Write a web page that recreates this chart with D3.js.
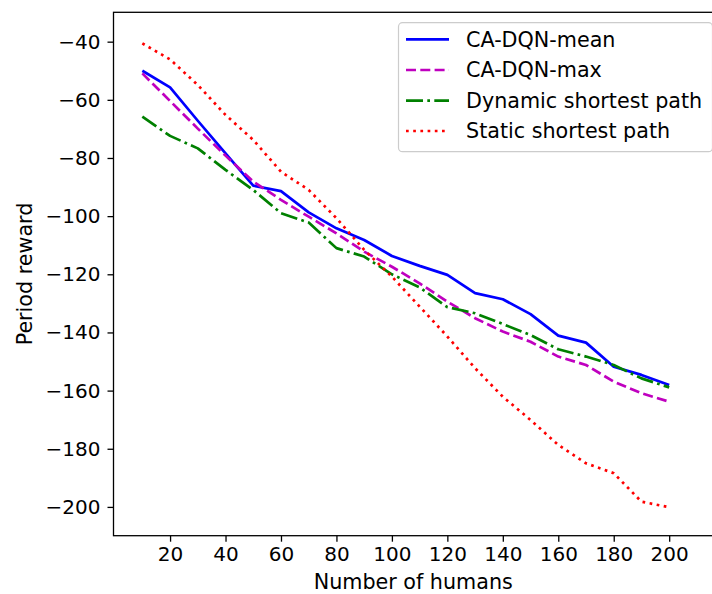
<!DOCTYPE html>
<html><head><meta charset="utf-8">
<script src="https://cdn.jsdelivr.net/npm/d3@7"></script>
<style>
html,body{margin:0;padding:0;background:#fff;}
svg{display:block;font-family:"DejaVu Sans",sans-serif;}
</style></head>
<body><svg id="c" width="712" height="594"></svg>
<script>
const humans = [10,20,30,40,50,60,70,80,90,100,110,120,130,140,150,160,170,180,190,200];
const caMean = [-50,-55.7,-67.2,-78.4,-89.5,-91.4,-98.7,-104.2,-108.2,-113.7,-117.1,-120.2,-126.5,-128.6,-133.7,-141.1,-143.5,-151.8,-154.6,-158.1];
const caMax = [-50.9,-60.4,-69.9,-79.2,-88.1,-94.4,-100.2,-105.9,-112.2,-117.4,-123.1,-129.4,-135.1,-139.7,-143.2,-148.3,-151.2,-156.9,-160.9,-163.8];
const dynamicSP = [-65.8,-72.4,-76.7,-84.1,-91,-99,-102.2,-111,-113.9,-120,-124.5,-131.3,-133.4,-137.1,-140.9,-145.8,-148.3,-151.2,-155.8,-158.9];
const staticSP = [-40.6,-46.1,-54.9,-65.2,-73.8,-84.7,-91,-100.7,-111.6,-120.8,-131.1,-141.4,-152.3,-162.1,-170.1,-178.7,-185,-188.4,-198.2,-200.1];
const xTicks = [20,40,60,80,100,120,140,160,180,200];
const yTicks = [-200,-180,-160,-140,-120,-100,-80,-60,-40];
const seriesNames = ["CA-DQN-mean","CA-DQN-max","Dynamic shortest path","Static shortest path"];

const L=113.5, R=713, T=12.3, B=535.7;
const svg = d3.select("#c");
const x = d3.scaleLinear().domain([-0.4,215.8]).range([L,R]);
const y = d3.scaleLinear().domain([-209.9,-29.9]).range([B,T]);
const fsTick = 20, fs = 20.7;

const styles = [
  {color:"#0000ff", dash:null},
  {color:"#bf00bf", dash:"10,4.3"},
  {color:"#008000", dash:"17,4.3,2.7,4.3"},
  {color:"#ff0000", dash:"2.7,4.5"}
];
const data = [caMean, caMax, dynamicSP, staticSP];

const line = d3.line().x((d,i)=>x(humans[i])).y(d=>y(d));
const plot = svg.append("g");
data.forEach((s,k)=>{
  plot.append("path").attr("d", line(s)).attr("fill","none")
    .attr("stroke", styles[k].color).attr("stroke-width",2.7)
    .attr("stroke-dasharray", styles[k].dash)
    .attr("stroke-linejoin","round");
});

// axes
const xAxis = d3.axisBottom(x).tickValues(xTicks).tickSize(6).tickPadding(5).tickFormat(d3.format("d"));
const yAxis = d3.axisLeft(y).tickValues(yTicks).tickSize(6).tickPadding(7).tickFormat(d3.format("d"));
const gx = svg.append("g").attr("transform",`translate(0,${B})`).call(xAxis);
const gy = svg.append("g").attr("transform",`translate(${L},0)`).call(yAxis);
[gx,gy].forEach(g=>{
  g.select(".domain").remove();
  g.selectAll(".tick line").attr("stroke","#000").attr("stroke-width",1.3);
  g.selectAll(".tick text").attr("font-size",fsTick).attr("font-family","DejaVu Sans").attr("fill","#000");
});
// spines
svg.append("rect").attr("x",L).attr("y",T).attr("width",R-L).attr("height",B-T)
  .attr("fill","none").attr("stroke","#000").attr("stroke-width",1.3);

// axis labels
svg.append("text").attr("x",(L+R)/2).attr("y",588.5).attr("text-anchor","middle")
  .attr("font-size",fs).text("Number of humans");
svg.append("text").attr("transform",`translate(32,${(T+B)/2}) rotate(-90)`).attr("text-anchor","middle")
  .attr("font-size",fs).text("Period reward");

// legend
const lg = svg.append("g");
lg.append("rect").attr("x",398.5).attr("y",22.7).attr("width",314).attr("height",129)
  .attr("rx",4).attr("fill","#fff").attr("fill-opacity",0.8).attr("stroke","#cccccc").attr("stroke-width",1.2);
const rowY = [39.3,70,100.7,131];
seriesNames.forEach((n,k)=>{
  lg.append("line").attr("x1",406).attr("x2",449).attr("y1",rowY[k]).attr("y2",rowY[k])
    .attr("stroke",styles[k].color).attr("stroke-width",2.7).attr("stroke-dasharray",styles[k].dash);
  lg.append("text").attr("x",466).attr("y",rowY[k]).attr("dy","0.35em").attr("font-size",fs).text(n);
});
</script></body></html>
